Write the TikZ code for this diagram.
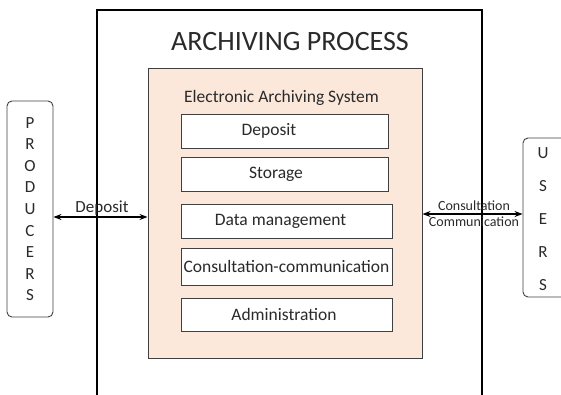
\documentclass[tikz,border=0pt]{standalone}
\usepackage{fontspec}
\setmainfont{Carlito}
\usetikzlibrary{arrows.meta,calc}
\definecolor{peach}{HTML}{FCE8DB}
\definecolor{txt}{HTML}{2A2A2A}
\definecolor{edge}{HTML}{404040}
\tikzset{
  func/.style={draw=edge, line width=1pt, fill=white, text=txt, inner sep=0pt,
    font=\fontsize{17.5}{21}\selectfont},
  side/.style={draw=edge, line width=0.9pt, rounded corners=5pt, fill=white},
  lbl/.style={text=txt, inner sep=0pt},
  arr/.style={{Stealth[length=8pt,width=6pt]}-{Stealth[length=8pt,width=6pt]}, line width=1.1pt, black},
}
\begin{document}
\begin{tikzpicture}[x=1pt,y=-1pt]
\useasboundingbox (0,0) rectangle (561,394);
% outer process frame (open at bottom)
\draw[line width=1.2pt, black] (97,396) -- (97,10) -- (482,10) -- (482,396);
\node[lbl, font=\fontsize{28}{32}\selectfont] (title) at (290,42) {ARCHIVING PROCESS};
% electronic archiving system
\node[draw=edge, line width=1pt, fill=peach, minimum width=274pt, minimum height=290pt, inner sep=0pt] (eas) at (285,213) {};
\node[lbl, font=\fontsize{17.5}{20}\selectfont] (eastitle) at (281.5,98) {Electronic Archiving System};
\node[func, minimum width=207pt, minimum height=34pt] (dep) at (284.5,131) {Deposit\hspace*{31pt}};
\node[func, minimum width=207pt, minimum height=34pt] (sto) at (284.5,174) {Storage\hspace*{17pt}};
\node[func, minimum width=211pt, minimum height=34pt] (dat) at (286.5,221) {Data management\hspace*{12pt}};
\node[func, minimum width=211pt, minimum height=37pt] (con) at (286.5,266.5) {Consultation-communication};
\node[func, minimum width=211pt, minimum height=33pt] (adm) at (286.5,314.5) {Administration\hspace*{5pt}};
% producers
\node[side, minimum width=46pt, minimum height=216pt, inner sep=0pt] (prod) at (30,209) {};
\node[lbl, align=center, font=\fontsize{17}{21.6}\selectfont] (prodT) at (30,209) {P\\R\\O\\D\\U\\C\\E\\R\\S};
% users
\node[side, minimum width=54pt, minimum height=159pt, inner sep=0pt] (users) at (550,217.5) {};
\node[lbl, align=center, font=\fontsize{17}{33}\selectfont] (usersT) at (543,219.5) {U\\S\\E\\R\\S};
% connectors
\draw[arr] ([yshift=-8pt]prod.east) -- ([yshift=-8pt]prod.east -| eas.west);
\node[lbl, font=\fontsize{17}{20}\selectfont] (depL) at (102,208) {Deposit};
\draw[arr] ([yshift=3.5pt]users.west -| eas.east) -- ([yshift=3.5pt]users.west);
\node[lbl, font=\fontsize{14}{16}\selectfont] (conL) at (474,206) {Consultation};
\node[lbl, font=\fontsize{14}{16}\selectfont] (comL) at (474,222) {Communication};
\end{tikzpicture}
\end{document}
